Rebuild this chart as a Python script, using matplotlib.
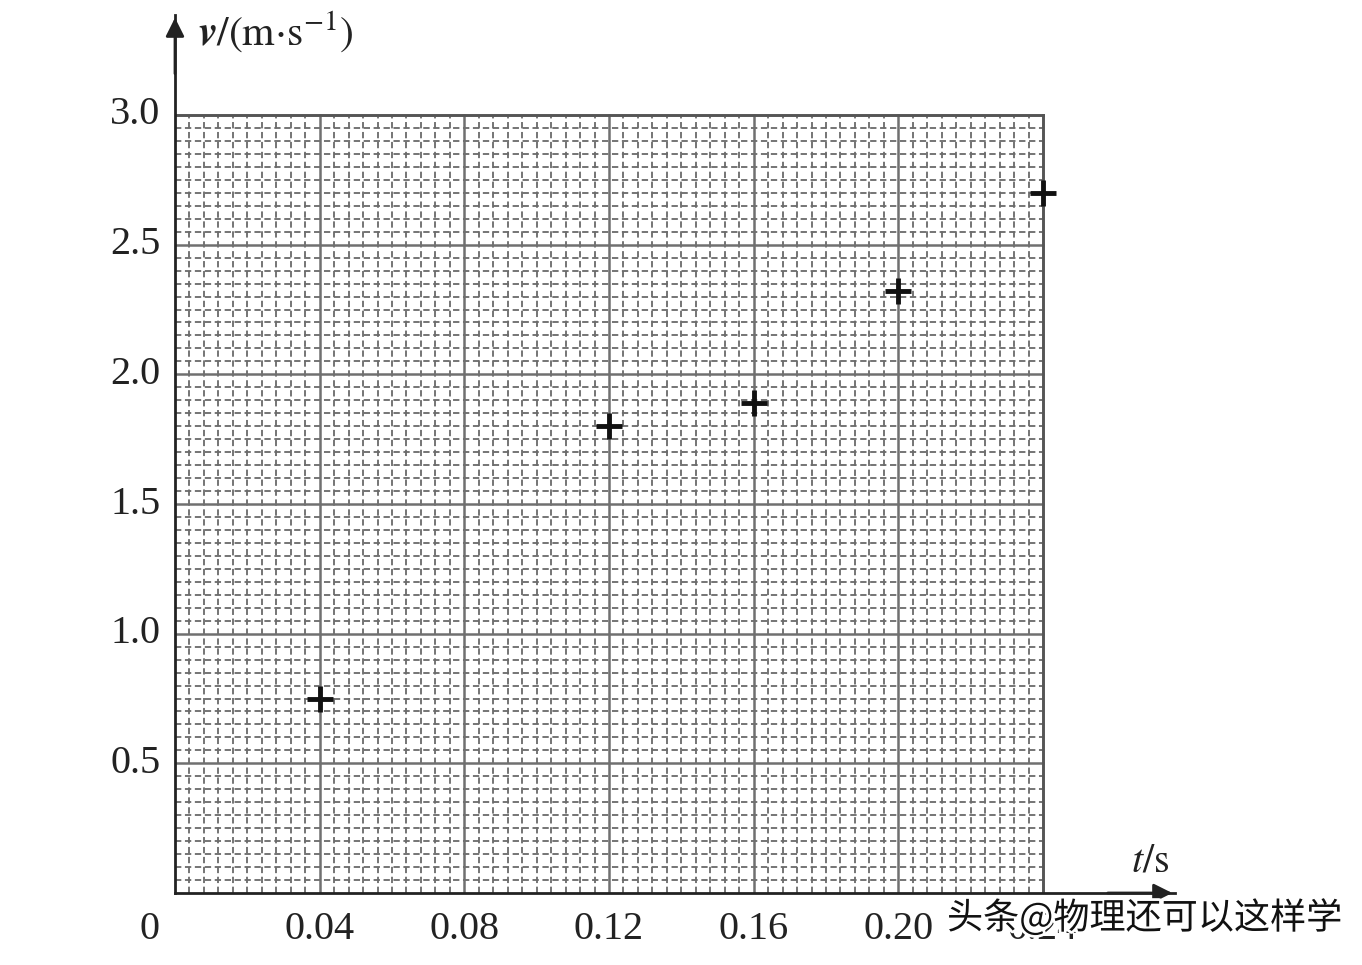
import matplotlib
matplotlib.use("Agg")
import matplotlib.pyplot as plt
import matplotlib.patheffects as pe
import numpy as np

# data
t_vals = [0.04, 0.12, 0.16, 0.20, 0.24]
v_vals = [0.75, 1.80, 1.89, 2.32, 2.70]
x_ticks = [0.04, 0.08, 0.12, 0.16, 0.20, 0.24]
x_tick_labels = ["0.04", "0.08", "0.12", "0.16", "0.20", "0.24"]
y_ticks = [0.5, 1.0, 1.5, 2.0, 2.5, 3.0]
y_tick_labels = ["0.5", "1.0", "1.5", "2.0", "2.5", "3.0"]
t_max, v_max = 0.24, 3.0

plt.rcParams['mathtext.fontset'] = 'stix'
serif = 'Liberation Serif'

W, H = 1362, 965
fig = plt.figure(figsize=(W / 100, H / 100), dpi=100)
x0, x1 = 175, 1175
y0, y1 = 893, 15
ax = fig.add_axes([x0 / W, 1 - y0 / H, (x1 - x0) / W, (y0 - y1) / H])
pxt = 868 / t_max
pxv = 778 / v_max
ax.set_xlim(0, (x1 - x0) / pxt)
ax.set_ylim(0, (y0 - y1) / pxv)
for s in ['top', 'right']:
    ax.spines[s].set_visible(False)
for s in ['left', 'bottom']:
    ax.spines[s].set_linewidth(2)
    ax.spines[s].set_color('#222222')
ax.set_xticks([])
ax.set_yticks([])

# fine grid
dash = dict(color='#6a6a6a', lw=1.3, linestyle=(0, (3.5, 2)), zorder=1)
for i in range(1, 60):
    if i % 10 == 0:
        continue
    x = i * 0.004
    ax.plot([x, x], [0, v_max], **dash)
for i in range(1, 60):
    if i % 10 == 0:
        continue
    y = i * 0.05
    ax.plot([0, t_max], [y, y], **dash)
major = dict(color='#707070', lw=1.8, zorder=2)
for x in np.arange(0.04, t_max + 1e-9, 0.04):
    ax.plot([x, x], [0, v_max], **major)
for y in np.arange(0.5, v_max + 1e-9, 0.5):
    ax.plot([0, t_max], [y, y], **major)
ax.plot([0, t_max], [v_max, v_max], color='#555555', lw=2, zorder=2)
ax.plot([t_max, t_max], [0, v_max], color='#555555', lw=2, zorder=2)

# arrows
ax.annotate('', xy=(1.0, 0), xycoords='axes fraction', xytext=(0.93, 0),
            arrowprops=dict(arrowstyle='-|>', color='#222222', lw=2, mutation_scale=28))
ax.annotate('', xy=(0, 1.0), xycoords='axes fraction', xytext=(0, 0.93),
            arrowprops=dict(arrowstyle='-|>', color='#222222', lw=2, mutation_scale=28))

# data points
ax.plot(t_vals, v_vals, linestyle='none', marker='+', color='#111111',
        markersize=19, mew=3.5, zorder=5, clip_on=False)

# tick labels
for x, lab in zip(x_ticks, x_tick_labels):
    ax.text(x, -0.14, lab, ha='center', va='center', fontsize=29, family=serif, color='#222222')
ax.text(-0.007, -0.14, "0", ha='center', va='center', fontsize=29, family=serif, color='#222222')
for y, lab in zip(y_ticks, y_tick_labels):
    ax.text(-0.004, y, lab, ha='right', va='center', fontsize=29, family=serif, color='#222222')

# axis labels
fig.text(198 / W, 1 - 32 / H, r'$\boldsymbol{v}/(\mathrm{m{\cdot}s^{-1}})$', ha='left', va='center',
         fontsize=30, color='#222222')
fig.text(1131 / W, 1 - 860 / H, r'$t/\mathrm{s}$', ha='left', va='center',
         fontsize=29, color='#222222')

# watermark
fig.text(947 / W, 1 - 918 / H, '头条@物理还可以这样学', ha='left', va='center',
         fontsize=26, family=['Noto Sans CJK SC', 'DejaVu Sans'], color='#111111',
         path_effects=[pe.withStroke(linewidth=4, foreground='white')])

fig.savefig('out.png', dpi=100)
